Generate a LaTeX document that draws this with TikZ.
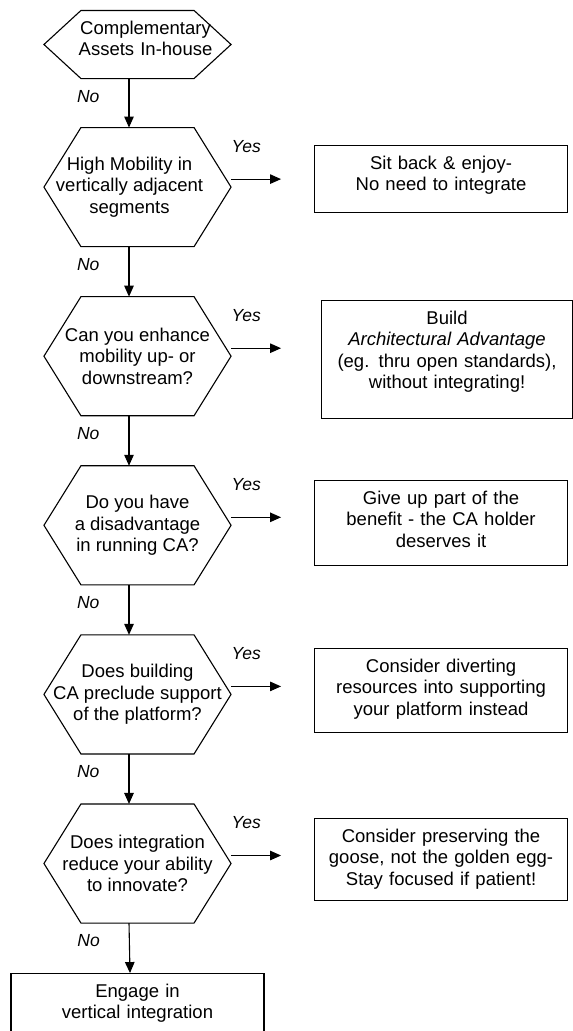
\documentclass[tikz,border=0pt]{standalone}
\usepackage{fontspec}
\setmainfont{Liberation Sans}
\usetikzlibrary{arrows.meta, positioning}

\begin{document}
\begin{tikzpicture}[x=1pt, y=-1pt, line width=1.1pt,
  every node/.style={font=\fontsize{18.5}{21.3}\selectfont},
  hexa/.style={minimum width=186pt, minimum height=118pt, inner sep=0pt, align=center},
  outbox/.style={draw, anchor=north west, inner sep=0pt, text width=253pt, align=center, text height=24pt},
  flow/.style={-{Triangle[length=11pt, width=9.5pt]}},
  lbl/.style={font=\fontsize{17.5}{20}\selectfont\itshape, inner sep=0pt}]
\useasboundingbox (0,0) rectangle (573,1031);

% questions
\node[hexa, minimum height=67pt, text width=186pt, text height=23pt, text depth=44pt] (h1) at (137.5,44.5) {\hspace*{16pt}Complementary\\\hspace*{16pt}Assets In-house};
\node[hexa, below=49pt of h1] (h2) {\hspace*{-16pt}High Mobility in\\\hspace*{-16pt}vertically adjacent\\\hspace*{-16pt}segments};
\node[hexa, below=50pt of h2] (h3) {Can you enhance\\mobility up- or\\downstream?};
\node[hexa, below=50pt of h3] (h4) {Do you have\\a disadvantage\\in running CA?};
\node[hexa, below=50pt of h4] (h5) {Does building\\CA preclude support\\of the platform?};
\node[hexa, below=50pt of h5] (h6) {Does integration\\reduce your ability\\to innovate?};
\foreach \h in {h1,h2,h3,h4,h5,h6}
  \draw (\h.west) -- ([xshift=37pt]\h.north west) -- ([xshift=-37pt]\h.north east) -- (\h.east) -- ([xshift=-37pt]\h.south east) -- ([xshift=37pt]\h.south west) -- cycle;

% answers
\node[outbox, text depth=43pt] (o1) at (314,145) {Sit back \& enjoy-\\No need to integrate};
\node[outbox, text width=251pt, text depth=94pt] (o2) at (321,300) {Build\\\textit{Architectural Advantage}\\(eg. thru open standards),\\without integrating!};
\node[outbox, text depth=61pt] (o3) at (314,480) {Give up part of the\\benefit - the CA holder\\deserves it};
\node[outbox, text depth=60pt] (o4) at (314,648) {Consider diverting\\resources into supporting\\your platform instead};
\node[outbox, text depth=58pt] (o5) at (314,818) {Consider preserving the\\goose, not the golden egg-\\Stay focused if patient!};
\node[outbox, text depth=100pt, below=50pt of h6] (o6) {Engage in\\vertical integration};

% no
\draw[flow] ([xshift=-8.5pt]h1.south) -- node[lbl, pos=0.36, anchor=east, xshift=-29pt] (n1) {No} ([xshift=-8.5pt]h2.north);
\draw[flow] ([xshift=-8.5pt]h2.south) -- node[lbl, pos=0.36, anchor=east, xshift=-29pt] (n2) {No} ([xshift=-8.5pt]h3.north);
\draw[flow] ([xshift=-8.5pt]h3.south) -- node[lbl, pos=0.36, anchor=east, xshift=-29pt] (n3) {No} ([xshift=-8.5pt]h4.north);
\draw[flow] ([xshift=-8.5pt]h4.south) -- node[lbl, pos=0.36, anchor=east, xshift=-29pt] (n4) {No} ([xshift=-8.5pt]h5.north);
\draw[flow] ([xshift=-8.5pt]h5.south) -- node[lbl, pos=0.36, anchor=east, xshift=-29pt] (n5) {No} ([xshift=-8.5pt]h6.north);
\draw[flow] ([xshift=-8.5pt]h6.south) -- node[lbl, pos=0.36, anchor=east, xshift=-29pt] (n6) {No} ([xshift=-7.5pt]o6.north);

% yes
\draw[flow] ([yshift=8pt]h2.east) -- node[lbl, at start, anchor=south west, yshift=26pt] (y2) {Yes} ++(50,0);
\draw[flow] ([yshift=8pt]h3.east) -- node[lbl, at start, anchor=south west, yshift=26pt] (y3) {Yes} ++(50,0);
\draw[flow] ([yshift=8pt]h4.east) -- node[lbl, at start, anchor=south west, yshift=26pt] (y4) {Yes} ++(50,0);
\draw[flow] ([yshift=8pt]h5.east) -- node[lbl, at start, anchor=south west, yshift=26pt] (y5) {Yes} ++(50,0);
\draw[flow] ([yshift=8pt]h6.east) -- node[lbl, at start, anchor=south west, yshift=26pt] (y6) {Yes} ++(50,0);
\end{tikzpicture}
\end{document}
